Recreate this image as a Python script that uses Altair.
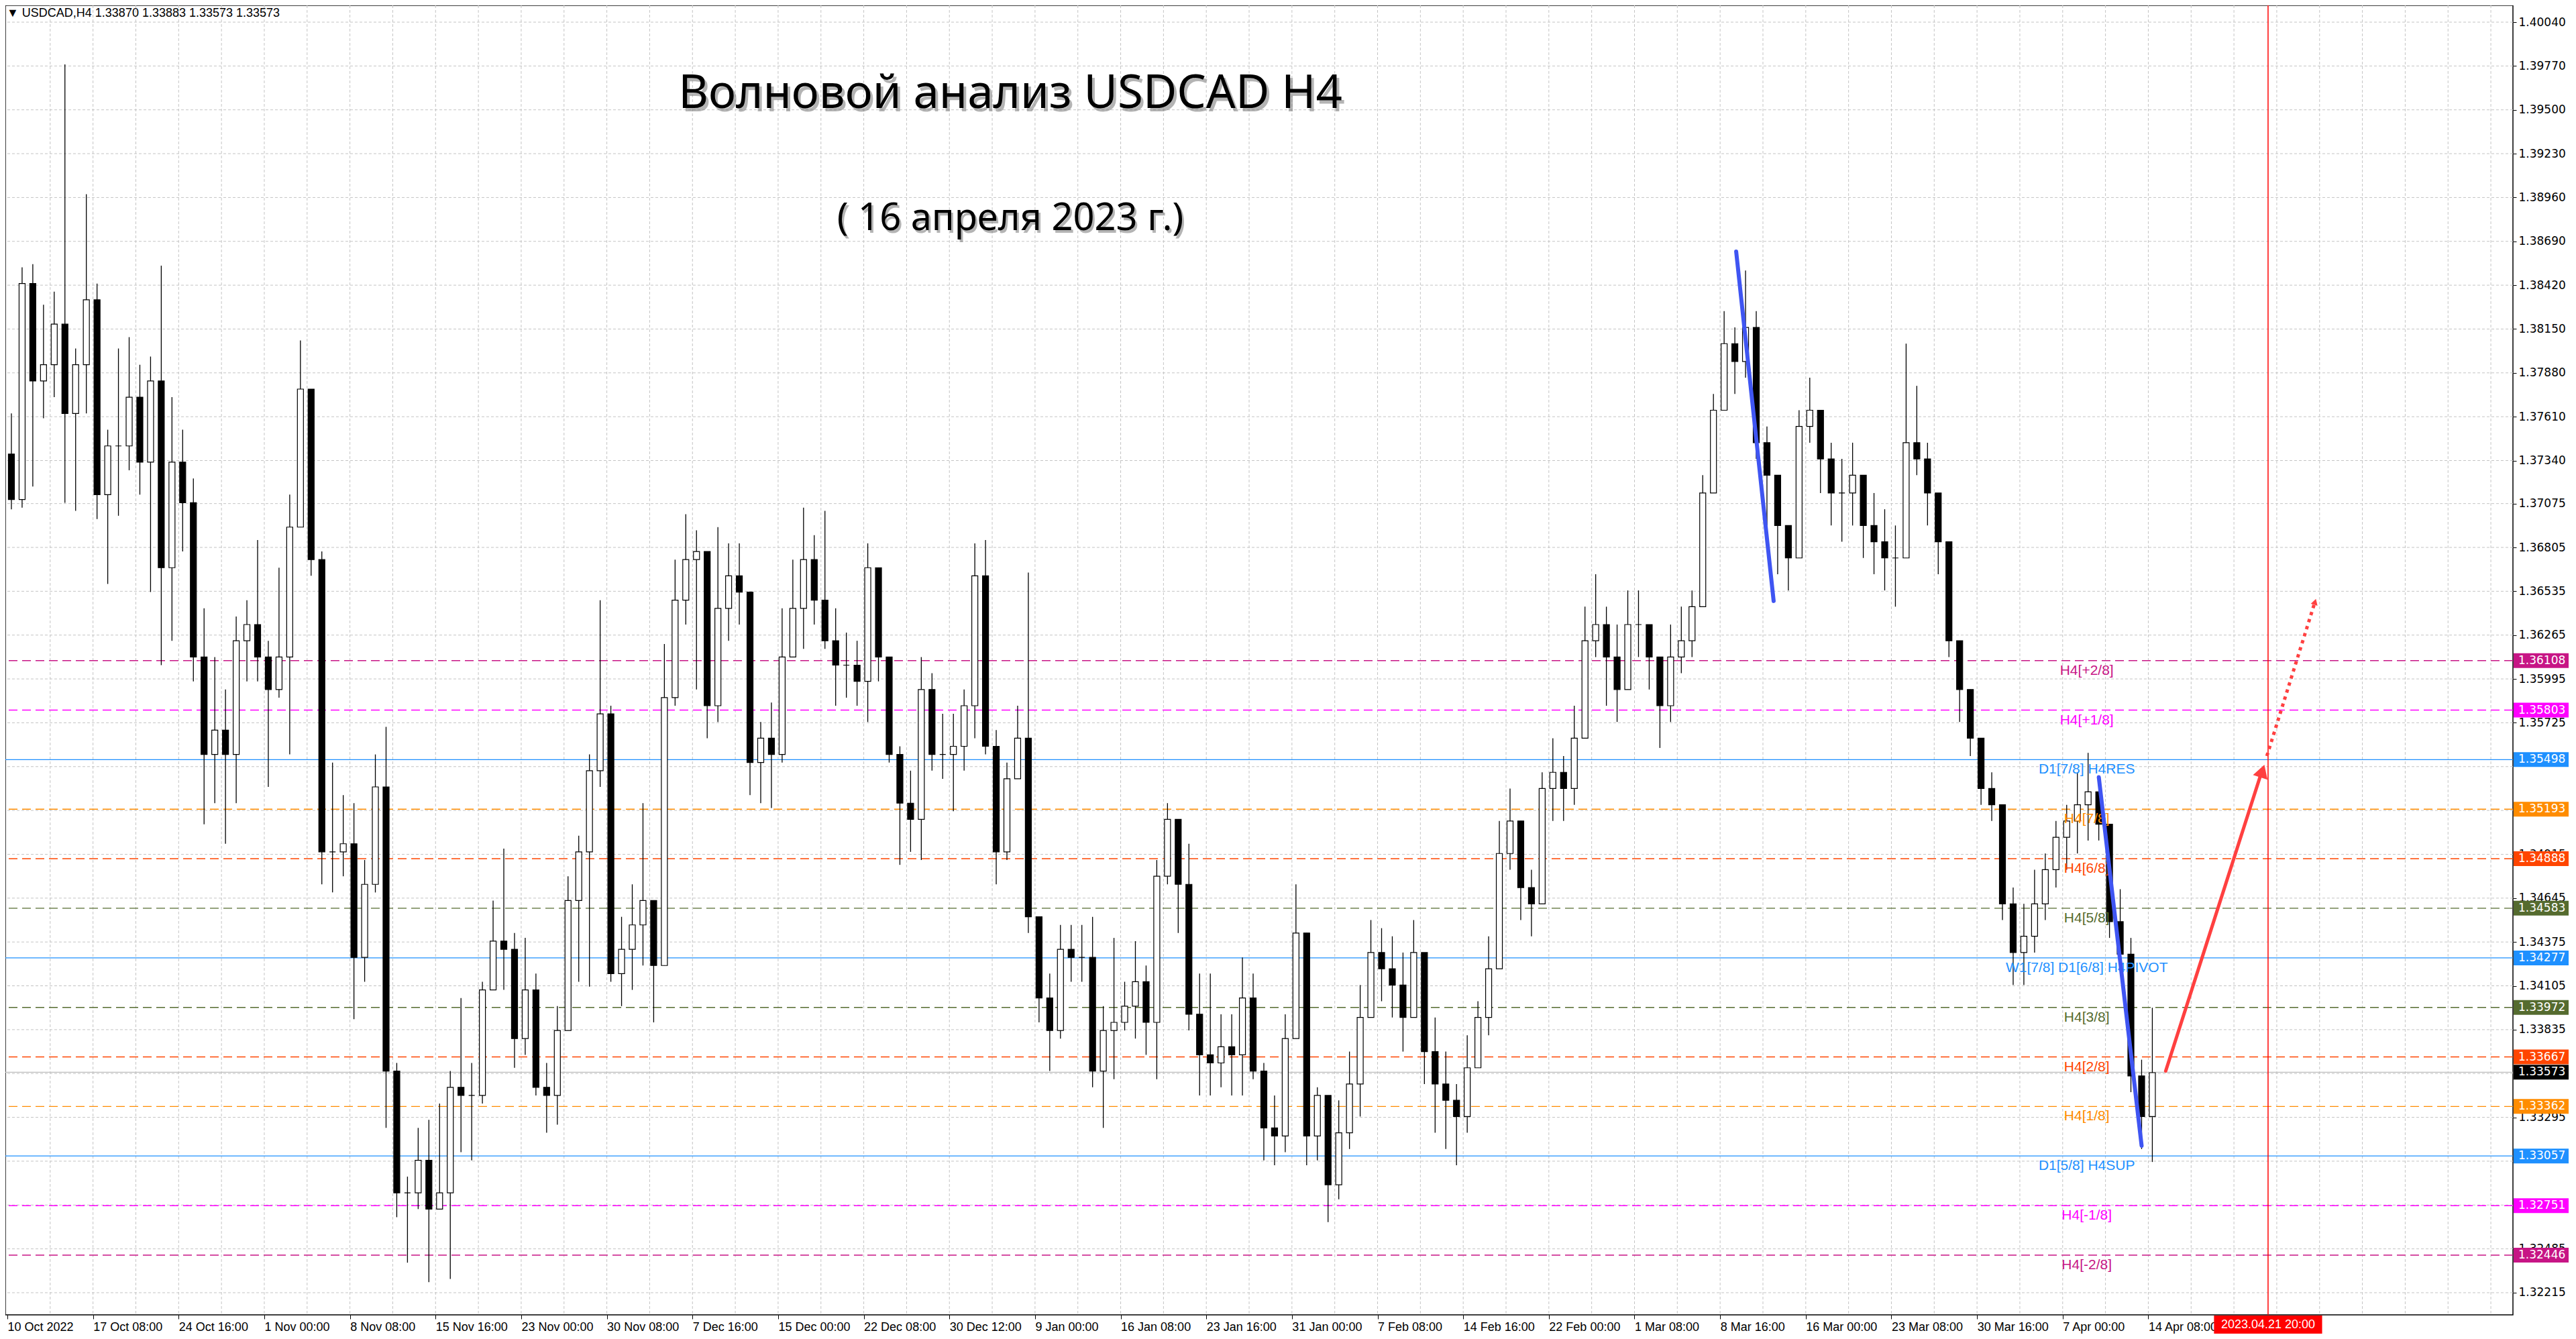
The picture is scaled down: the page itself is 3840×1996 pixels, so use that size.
import json
import altair as alt
import pandas as pd

# ---------------- data ----------------
# USDCAD H4, grouped 4 H4 bars per candle (bar index = H4 bar number from 10 Oct 2022)
BARS_PER_CANDLE = 4
open0 = 13738  # pips (x 1e-4)
high_p = [13763,13853,13855,13830,13838,13978,13803,13898,13843,13753,13803,13810,13793,13798,13854,13773,13753,13723,13643,13613,
          13593,13638,13648,13685,13623,13668,13713,13808,13753,13678,13548,13528,13523,13488,13553,13570,13363,13293,13323,13328,
          13338,13358,13403,13363,13413,13463,13495,13443,13440,13418,13363,13398,13478,13503,13553,13648,13583,13453,13473,13523,
          13453,13621,13673,13701,13691,13678,13693,13683,13683,13653,13573,13585,13643,13673,13705,13688,13703,13643,13628,13623,
          13683,13648,13613,13558,13543,13613,13603,13578,13578,13593,13683,13685,13568,13548,13583,13665,13453,13418,13448,13448,
          13448,13453,13398,13440,13413,13438,13423,13488,13523,13498,13498,13418,13418,13393,13393,13428,13418,13363,13343,13393,
          13473,13443,13348,13343,13340,13370,13411,13451,13446,13441,13431,13451,13431,13391,13370,13350,13380,13401,13441,13512,
          13532,13512,13482,13542,13563,13552,13583,13644,13664,13644,13633,13654,13654,13633,13613,13633,13644,13654,13725,13775,
          13826,13816,13851,13826,13755,13725,13694,13765,13785,13765,13745,13735,13745,13725,13714,13704,13694,13806,13780,13745,
          13714,13684,13623,13593,13563,13542,13522,13471,13461,13482,13492,13512,13522,13542,13554,13540,13500,13470,13440,13365,
          13397]
low_p = [13704,13705,13718,13760,13773,13708,13703,13763,13698,13658,13700,13728,13713,13653,13608,13623,13678,13598,13510,13523,
         13498,13523,13598,13598,13533,13588,13553,13693,13663,13473,13468,13478,13390,13413,13468,13323,13268,13240,13273,13228,
         13273,13230,13308,13303,13338,13408,13408,13360,13368,13343,13320,13325,13383,13413,13410,13533,13413,13398,13408,13423,
         13388,13423,13583,13633,13593,13563,13573,13623,13633,13528,13523,13520,13548,13618,13618,13633,13618,13583,13588,13583,
         13573,13598,13548,13485,13493,13488,13543,13538,13518,13543,13563,13553,13473,13488,13543,13443,13388,13358,13378,13413,
         13413,13348,13323,13353,13383,13378,13368,13353,13473,13443,13383,13343,13343,13348,13343,13343,13353,13303,13300,13308,
         13388,13300,13303,13265,13279,13310,13330,13391,13401,13391,13370,13391,13350,13320,13310,13300,13320,13360,13380,13421,
         13482,13451,13441,13461,13512,13512,13522,13563,13613,13583,13573,13593,13613,13593,13557,13573,13603,13613,13644,13714,
         13765,13775,13785,13735,13694,13664,13654,13674,13745,13714,13694,13684,13694,13674,13664,13654,13644,13674,13725,13694,
         13664,13613,13573,13552,13522,13512,13451,13411,13411,13431,13451,13471,13482,13492,13500,13500,13440,13420,13345,13310,
         13302]
close_p = [13710,13843,13783,13793,13818,13763,13793,13833,13713,13743,13743,13773,13733,13783,13668,13733,13708,13613,13553,13568,
           13553,13623,13633,13613,13593,13613,13693,13778,13673,13493,13493,13498,13428,13473,13533,13358,13283,13283,13303,13273,
           13283,13348,13343,13343,13408,13438,13433,13378,13408,13348,13343,13383,13463,13493,13543,13578,13418,13433,13448,13463,
           13423,13588,13648,13673,13678,13583,13643,13663,13653,13548,13563,13553,13613,13643,13673,13648,13623,13608,13608,13598,
           13668,13613,13553,13523,13513,13593,13553,13553,13558,13583,13663,13558,13493,13538,13563,13453,13403,13383,13433,13428,
           13428,13358,13383,13388,13398,13413,13388,13478,13513,13473,13393,13368,13363,13373,13368,13403,13358,13323,13318,13378,
           13443,13318,13343,13288,13320,13350,13391,13431,13421,13411,13391,13431,13370,13350,13340,13330,13360,13391,13421,13492,
           13512,13471,13461,13532,13542,13532,13563,13623,13633,13613,13593,13633,13633,13613,13583,13613,13623,13644,13714,13765,
           13806,13795,13816,13745,13725,13694,13674,13755,13765,13735,13714,13714,13725,13694,13684,13674,13674,13745,13735,13714,
           13684,13623,13593,13563,13532,13522,13461,13431,13441,13461,13482,13502,13512,13522,13530,13510,13450,13430,13355,13330,
           13357]

date_labels = ["10 Oct 2022", "17 Oct 08:00", "24 Oct 16:00", "1 Nov 00:00", "8 Nov 08:00", "15 Nov 16:00",
               "23 Nov 00:00", "30 Nov 08:00", "7 Dec 16:00", "15 Dec 00:00", "22 Dec 08:00", "30 Dec 12:00",
               "9 Jan 00:00", "16 Jan 08:00", "23 Jan 16:00", "31 Jan 00:00", "7 Feb 08:00", "14 Feb 16:00",
               "22 Feb 00:00", "1 Mar 08:00", "8 Mar 16:00", "16 Mar 00:00", "23 Mar 08:00", "30 Mar 16:00",
               "7 Apr 00:00", "14 Apr 08:00"]
LABEL_STEP = 32
GRID_STEP = 16

# horizontal grid levels of the price scale
y_grid = [1.40040, 1.39770, 1.39500, 1.39230, 1.38960, 1.38690, 1.38420, 1.38150, 1.37880, 1.37610,
          1.37340, 1.37075, 1.36805, 1.36535, 1.36265, 1.35995, 1.35725, 1.35455, 1.35185, 1.34915,
          1.34645, 1.34375, 1.34105, 1.33835, 1.33565, 1.33295, 1.33025, 1.32755, 1.32485, 1.32215]
# labels hidden under the coloured price boxes in the reference
y_hidden = [1.35455, 1.35185, 1.33565, 1.33025, 1.32755]
y_labels = [v for v in y_grid if v not in y_hidden]

lvl_text = ["H4[+2/8]", "H4[+1/8]", "D1[7/8] H4RES", "H4[7/8]", "H4[6/8]", "H4[5/8]", "W1[7/8] D1[6/8] H4PIVOT",
            "H4[3/8]", "H4[2/8]", "H4[1/8]", "D1[5/8] H4SUP", "H4[-1/8]", "H4[-2/8]"]
lvl_price = [1.36108, 1.35803, 1.35498, 1.35193, 1.34888, 1.34583, 1.34277, 1.33972, 1.33667, 1.33362,
             1.33057, 1.32751, 1.32446]
lvl_color = ["#C71585", "#FF00FF", "#1E90FF", "#FF8C00", "#FF4500", "#556B2F", "#1E90FF", "#556B2F",
             "#FF4500", "#FF8C00", "#1E90FF", "#FF00FF", "#C71585"]
lvl_solid = [False, False, True, False, False, False, True, False, False, False, True, False, False]
LVL_LABEL_BAR = 777

last_price = 1.33573
header = "\u25bc USDCAD,H4  1.33870 1.33883 1.33573 1.33573"
title1 = "Волновой анализ USDCAD H4"
title2 = "( 16 апреля 2023 г.)"

# wave drawings (bar index, price)
blue_seg = ["a", "a", "b", "b"]
blue_bar = [646, 660, 781.5, 797.5]
blue_price = [1.38627, 1.36475, 1.35390, 1.33120]
red_bar = [806.5, 842.3]
red_price = [1.33580, 1.35420]
red_tip = (842.6, 1.35428)
dot_bar = [844.3, 862.0]
dot_price = [1.35520, 1.36455]
dot_tip = (862.3, 1.36470)
future_bar = 844.75
future_label = "2023.04.21 20:00"

# ---------------- geometry ----------------
W, H = 3738, 1952
xs = alt.Scale(domain=[0.5, 935.0], nice=False, zero=False)
ys = alt.Scale(domain=[1.320786, 1.401433], nice=False, zero=False)
UI_FONT = "Liberation Sans Narrow, Liberation Sans, Arial, sans-serif"

label_expr = json.dumps(date_labels) + f"[round(datum.value/{LABEL_STEP})]"
x_axis = alt.Axis(values=[LABEL_STEP * i for i in range(len(date_labels))], labelExpr=label_expr,
                  labelAlign="left", labelBaseline="top", labelFont=UI_FONT,
                  labelFontSize=18, labelColor="black", labelPadding=3, tickSize=6, tickColor="black",
                  domain=False, grid=False, labelOverlap=False, labelFlush=False, title=None)
y_axis = alt.Axis(orient="right", values=y_labels, format=".5f", labelFont="DejaVu Sans", labelFontSize=17,
                  labelColor="black", tickSize=5, tickColor="black", labelPadding=3, domain=False,
                  grid=False, title=None, labelOverlap=False, labelFlush=False)


def X(f):
    return alt.X(f, type="quantitative", scale=xs, axis=x_axis)


def Y(f):
    return alt.Y(f, type="quantitative", scale=ys, axis=y_axis)


rows = []
prev = open0
for k, (h, l, c) in enumerate(zip(high_p, low_p, close_p)):
    o = prev
    rows.append(dict(bar=k * BARS_PER_CANDLE + 1.5, open=o / 1e4, close=c / 1e4,
                     high=max(h, o, c) / 1e4, low=min(l, o, c) / 1e4, up=bool(c >= o)))
    prev = c
candles = pd.DataFrame(rows)

grid_df = pd.DataFrame({"bar": list(range(GRID_STEP, 935, GRID_STEP))})
hgrid_df = pd.DataFrame({"price": y_grid})
lv = pd.DataFrame({"text": lvl_text, "price": lvl_price, "color": lvl_color, "solid": lvl_solid,
                   "bar": LVL_LABEL_BAR})
boxes = pd.concat([lv[["price", "color"]],
                   pd.DataFrame({"price": [last_price], "color": ["#000000"]})], ignore_index=True)
boxes["label"] = boxes["price"].map(lambda v: f"{v:.5f}")

vgrid = alt.Chart(grid_df).mark_rule(color="#C4C4C4", strokeDash=[4, 3], strokeWidth=1).encode(x=X("bar"))
hgrid = alt.Chart(hgrid_df).mark_rule(color="#C4C4C4", strokeDash=[4, 3], strokeWidth=1).encode(y=Y("price"))

dashed = alt.Chart(lv[~lv.solid]).mark_rule(strokeDash=[13, 7], strokeWidth=1.4).encode(
    y=Y("price"), color=alt.Color("color:N", scale=None))
solid = alt.Chart(lv[lv.solid]).mark_rule(strokeWidth=1.2).encode(
    y=Y("price"), color=alt.Color("color:N", scale=None))
cur_line = alt.Chart(pd.DataFrame({"price": [last_price]})).mark_rule(color="#BDBDBD", strokeWidth=1.2).encode(y=Y("price"))
future_line = alt.Chart(pd.DataFrame({"bar": [future_bar]})).mark_rule(color="#FF0000", strokeWidth=1.5).encode(x=X("bar"))

wicks = alt.Chart(candles).mark_rule(color="black", strokeWidth=1.3).encode(x=X("bar"), y=Y("low"), y2="high")
bodies = alt.Chart(candles).mark_bar(size=9, stroke="black", strokeWidth=1.2).encode(
    x=X("bar"), y=Y("open"), y2="close",
    fill=alt.condition("datum.up", alt.value("white"), alt.value("black")))

lvl_labels = alt.Chart(lv).mark_text(align="center", baseline="top", dy=4, font="Liberation Sans", fontSize=21).encode(
    x=X("bar"), y=Y("price"), text="text:N", color=alt.Color("color:N", scale=None))

blue = alt.Chart(pd.DataFrame({"seg": blue_seg, "bar": blue_bar, "price": blue_price})).mark_line(
    color="#3F55F2", strokeWidth=6, strokeCap="round").encode(x=X("bar"), y=Y("price"), detail="seg:N")
red = alt.Chart(pd.DataFrame({"bar": red_bar, "price": red_price})).mark_line(
    color="#FF4040", strokeWidth=5, strokeCap="round").encode(x=X("bar"), y=Y("price"))
red_head = alt.Chart(pd.DataFrame({"bar": [red_tip[0]], "price": [red_tip[1]]})).mark_point(
    shape="triangle-up", filled=True, size=520, angle=18, color="#FF4040", opacity=1).encode(x=X("bar"), y=Y("price"))
dots = alt.Chart(pd.DataFrame({"bar": dot_bar, "price": dot_price})).mark_line(
    color="#FF4040", strokeWidth=5, strokeDash=[5, 6]).encode(x=X("bar"), y=Y("price"))
dot_head = alt.Chart(pd.DataFrame({"bar": [dot_tip[0]], "price": [dot_tip[1]]})).mark_point(
    shape="triangle-up", filled=True, size=110, angle=17, color="#FF4040", opacity=1).encode(x=X("bar"), y=Y("price"))

box_rect = alt.Chart(boxes).mark_tick(orient="horizontal", size=82, thickness=22, opacity=1).encode(
    x=alt.value(W + 42), y=Y("price"), color=alt.Color("color:N", scale=None))
box_text = alt.Chart(boxes).mark_text(align="left", baseline="middle", font="DejaVu Sans", fontSize=17,
                                      color="white").encode(x=alt.value(W + 8), y=Y("price"), text="label:N")

fut_df = pd.DataFrame({"bar": [future_bar], "b0": [future_bar - 20.2], "b1": [future_bar + 20.2], "t": [future_label]})
fut_box = alt.Chart(fut_df).mark_rect(color="#FF0000").encode(x=X("b0"), x2="b1", y=alt.value(H + 1), y2=alt.value(H + 28))
fut_text = alt.Chart(fut_df).mark_text(align="center", baseline="middle", color="white", font=UI_FONT,
                                       fontSize=18).encode(x=X("bar"), y=alt.value(H + 15), text="t:N")

txt = pd.DataFrame({"t": [header]})
head = alt.Chart(txt).mark_text(align="left", baseline="middle", color="black", font=UI_FONT,
                                fontSize=18).encode(x=alt.value(2), y=alt.value(12), text="t:N")

tfont = "Comic Sans MS, Segoe Print, Noto Sans"
t1 = pd.DataFrame({"t": [title1]})
t2 = pd.DataFrame({"t": [title2]})
t1_sh = alt.Chart(t1).mark_text(align="center", baseline="middle", color="#777777", opacity=0.55, font=tfont,
                                fontSize=69, dx=4, dy=5).encode(x=alt.value(1498), y=alt.value(132), text="t:N")
t1_tx = alt.Chart(t1).mark_text(align="center", baseline="middle", color="black", font=tfont,
                                fontSize=69).encode(x=alt.value(1498), y=alt.value(132), text="t:N")
t2_sh = alt.Chart(t2).mark_text(align="center", baseline="middle", color="#777777", opacity=0.55, font=tfont,
                                fontSize=56, dx=3, dy=4).encode(x=alt.value(1498), y=alt.value(318), text="t:N")
t2_tx = alt.Chart(t2).mark_text(align="center", baseline="middle", color="black", font=tfont,
                                fontSize=56).encode(x=alt.value(1498), y=alt.value(318), text="t:N")

chart = alt.layer(
    vgrid, hgrid, dashed, solid, cur_line, future_line, wicks, bodies, lvl_labels,
    blue, red, red_head, dots, dot_head, box_rect, box_text, fut_box, fut_text,
    head, t1_sh, t1_tx, t2_sh, t2_tx
).properties(
    width=W, height=H,
    padding={"left": 0, "top": 0, "right": 84, "bottom": 28},
    autosize=alt.AutoSizeParams(type="none"),
    background="white",
).configure_view(stroke="black", strokeWidth=1.5)

chart.save("out.html", embed_options={"renderer": "svg", "actions": False})
